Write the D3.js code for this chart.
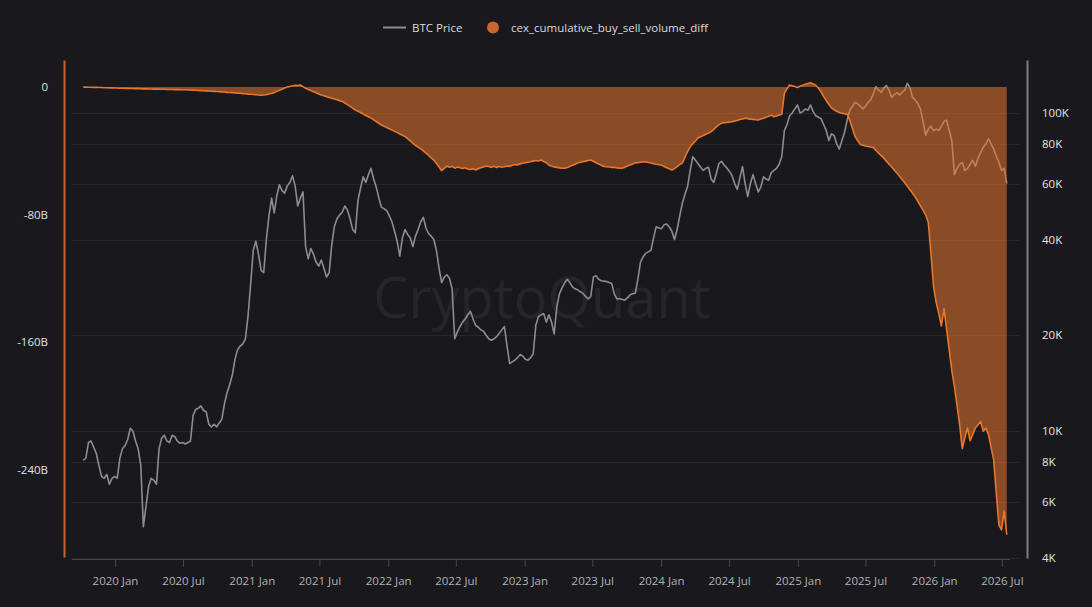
<!DOCTYPE html>
<html>
<head>
<meta charset="UTF-8">
<title>CEX cumulative buy/sell volume diff vs BTC price</title>
<script src="https://d3js.org/d3.v7.min.js"></script>
<style>
  html, body { margin: 0; padding: 0; background: #18181d; }
  svg { display: block; }
  text { font-family: "Open Sans", "Noto Sans", sans-serif; }
</style>
</head>
<body>
<script>
// weekly samples, first one on 2019-10-08
var startDate = new Date(2019, 9, 8);
var stepDays = 7;

// BTC price, thousand USD
var btcPrice = [
  8.1, 8.2, 9.2, 9.3, 8.9, 8.5, 7.8, 7.2, 7.1, 7.3,
  6.8, 7.1, 7.2, 7.1, 8.2, 8.8, 9.0, 9.4, 10.2, 10.0,
  9.3, 8.8, 7.8, 5.0, 5.8, 6.7, 7.1, 7.0, 6.8, 8.8,
  9.5, 9.7, 9.3, 9.2, 9.7, 9.6, 9.3, 9.15, 9.2, 9.1,
  9.2, 9.3, 11.2, 11.7, 11.8, 12.0, 11.6, 11.5, 10.5, 10.3,
  10.5, 10.3, 10.6, 10.9, 12.2, 13.2, 14.0, 15.0, 16.8, 18.0,
  18.5, 18.8, 19.5, 23.0, 29.0, 37.0, 39.5, 36.0, 32.0, 31.5,
  40.0, 47.5, 54.0, 48.5, 55.0, 59.5, 57.0, 56.0, 59.0, 60.5,
  63.5, 59.0, 51.0, 54.0, 56.5, 38.0, 34.8, 37.5, 36.0, 34.0,
  33.0, 34.5, 32.5, 30.5, 31.5, 38.5, 44.0, 46.5, 47.8, 48.8,
  51.0, 49.5, 46.5, 43.0, 42.0, 53.0, 58.0, 63.0, 60.5, 64.0,
  67.0, 62.0, 58.5, 54.0, 50.5, 50.0, 49.3, 47.5, 45.5, 42.5,
  39.5, 35.5, 40.5, 43.0, 41.5, 40.5, 38.0, 41.0, 43.0, 45.5,
  47.0, 43.5, 41.8, 41.0, 40.0, 37.0, 32.5, 29.3, 30.5, 31.0,
  30.2, 28.0, 19.5, 20.5, 21.3, 22.0, 22.5, 23.2, 23.8, 22.5,
  21.5, 21.2, 20.8, 20.6, 20.0, 19.5, 19.3, 19.5, 19.8, 20.3,
  20.8, 21.3, 18.5, 16.3, 16.5, 16.7, 17.0, 17.4, 17.2, 16.8,
  16.7, 17.0, 17.5, 21.5, 22.9, 23.2, 23.4, 22.0, 23.2, 22.0,
  20.2, 24.5, 27.0, 28.2, 29.2, 30.0, 29.3, 28.4, 28.0, 27.8,
  27.4, 27.1, 26.5, 26.0, 26.5, 30.5, 30.8, 30.0, 29.7, 29.6,
  29.5, 29.3, 29.1, 27.0, 26.0, 26.1, 25.9, 25.8, 26.2, 26.8,
  27.0, 27.1, 30.0, 34.0, 35.3, 36.2, 36.6, 37.0, 40.5, 43.9,
  43.5, 43.3, 44.5, 44.8, 43.8, 42.5, 40.0, 43.0, 47.5, 52.0,
  55.5, 58.7, 66.0, 72.9, 71.0, 69.3, 67.5, 66.0, 67.0, 67.5,
  62.0, 60.5, 64.5, 69.5, 70.5, 68.5, 67.2, 65.5, 63.5, 60.0,
  57.5, 62.5, 67.8, 60.0, 54.6, 60.0, 64.0, 60.0, 56.5, 58.5,
  63, 62, 61.5, 65, 66, 67, 69, 73, 88, 92,
  98, 100, 103, 106, 100, 101, 103, 102, 106, 101,
  98, 97, 96, 92, 88, 82, 86, 85, 80, 77,
  82, 87, 95, 102, 105, 108, 107, 105, 103, 105,
  108, 110, 115, 121, 118, 116, 120, 122, 118, 112,
  114, 116, 114, 116, 118, 124, 120, 112, 110, 107,
  103, 94, 85, 89, 91, 88, 89, 88, 91, 94,
  95, 88, 82, 64, 67, 69, 70, 66, 67, 69,
  71, 68, 72, 75, 78, 80, 83, 80, 77, 73,
  70, 66, 67, 60
];

// cex_cumulative_buy_sell_volume_diff, billions
var volumeDiff = [
  0, 0, -0.1, -0.1, -0.2, -0.2, -0.3, -0.3, -0.4, -0.4,
  -0.5, -0.5, -0.6, -0.6, -0.7, -0.7, -0.8, -0.8, -0.9, -0.9,
  -1.0, -1.0, -1.0, -1.1, -1.1, -1.2, -1.2, -1.3, -1.3, -1.3,
  -1.4, -1.4, -1.5, -1.5, -1.5, -1.6, -1.6, -1.7, -1.7, -1.7,
  -1.8, -1.8, -1.9, -2.0, -2.1, -2.2, -2.3, -2.4, -2.5, -2.6,
  -2.7, -2.8, -2.9, -3.0, -3.1, -3.3, -3.4, -3.5, -3.7, -3.8,
  -3.9, -4.1, -4.2, -4.4, -4.5, -4.7, -4.8, -5.0, -5.1, -5.0,
  -4.8, -4.4, -4.0, -3.4, -2.7, -2.0, -1.3, -0.6, 0.0, 0.4,
  0.8, 1.1, 1.0, 1.3, 0.3, -0.8, -1.5, -2.2, -3.0, -3.6,
  -4.3, -5.0, -5.5, -6.0, -6.5, -7.0, -7.5, -8.0, -8.5, -9.0,
  -10.0, -11.0, -12.1, -13.2, -14.4, -15.2, -16.0, -16.9, -17.8, -18.6,
  -19.5, -20.6, -21.6, -22.7, -23.8, -24.6, -25.4, -26.2, -27.0, -27.8,
  -28.6, -29.4, -30.2, -31.0, -32.4, -33.8, -35.2, -36.6, -37.7, -38.8,
  -40.0, -41.4, -42.9, -44.4, -45.8, -48.0, -50.2, -52.5, -51.0, -49.6,
  -50.3, -49.8, -50.9, -50.2, -50.6, -51.1, -50.7, -51.4, -51.8, -51.2,
  -52.0, -51.3, -50.6, -50.1, -49.6, -49.9, -50.4, -49.7, -50.5, -49.9,
  -50.3, -50.0, -49.6, -49.9, -49.1, -48.6, -48.9, -48.2, -47.8, -47.5,
  -47.2, -46.9, -46.5, -46.1, -46.4, -45.8, -46.7, -47.5, -49.0, -49.5,
  -50.1, -50.4, -50.7, -50.9, -51.0, -50.5, -49.8, -49.0, -48.4, -47.7,
  -47.2, -46.8, -46.5, -46.1, -45.8, -46.6, -47.5, -48.3, -49.1, -49.8,
  -50.0, -50.2, -50.5, -50.4, -50.8, -50.9, -51.0, -50.3, -49.6, -48.9,
  -48.3, -47.7, -47.4, -47.2, -47.0, -46.9, -47.3, -47.7, -48.1, -48.5,
  -48.8, -49.0, -49.8, -50.6, -51.3, -52.0, -51.2, -50.0, -48.7, -47.7,
  -44.0, -40.5, -37.5, -35.6, -33.8, -32.0, -31.2, -30.4, -29.6, -28.8,
  -28.0, -26.5, -25.0, -23.6, -22.6, -22.4, -22.2, -22.0, -21.8, -21.3,
  -20.9, -20.4, -20.0, -19.5, -19.8, -20.1, -20.3, -20.5, -20.7, -20.1,
  -19.5, -18.9, -18.3, -17.6, -18.6, -18.2, -17.6, -17.0, -4.0, -1.0,
  1.3, 0.8, 0.3, -0.2, 0.5, 1.2, 1.8, 2.3, 2.7, 2.0,
  1.2, -0.6, -3.0, -6.0, -8.4, -11.0, -13.0, -14.2, -15.2, -16.0,
  -16.4, -16.8, -17.0, -21.0, -26.0, -31.0, -33.5, -36.0, -36.5, -37.0,
  -37.3, -37.6, -38.0, -39.7, -41.5, -43.0, -44.6, -46.5, -48.4, -50.2,
  -52.0, -54.0, -56.0, -58.0, -60.0, -62.2, -64.4, -66.7, -69.0, -71.8,
  -74.6, -77.4, -80.2, -85, -104, -125, -135, -142, -150, -139,
  -152, -165, -178, -188, -200, -212, -227, -220, -214, -222,
  -218, -214, -212, -210, -216, -214, -218, -226, -234, -255,
  -275, -278, -266, -281
];

var xTickDates = ["2020-01", "2020-07", "2021-01", "2021-07", "2022-01", "2022-07", "2023-01",
                  "2023-07", "2024-01", "2024-07", "2025-01", "2025-07", "2026-01", "2026-07"];
var leftTicks = [0, -80, -160, -240];
var rightTicks = [4000, 6000, 8000, 10000, 20000, 40000, 60000, 80000, 100000];

var width = 1092, height = 607;
var plot = { left: 72, right: 1012, top: 60, bottom: 558 };

var rows = btcPrice.map(function (p, i) {
  return {
    date: d3.timeDay.offset(startDate, i * stepDays),
    price: p * 1000,
    diff: volumeDiff[i]
  };
});

var parseMonth = d3.timeParse("%Y-%m");

var x = d3.scaleTime()
    .domain([new Date(2019, 8, 8), new Date(2026, 6, 28)])
    .range([plot.left, plot.right]);

var yLeft = d3.scaleLinear()
    .domain([-295, 17])
    .range([557, 60]);

var yRight = d3.scaleLog()
    .domain([3987, 146800])
    .range([558, 60]);

var svg = d3.select("body").append("svg")
    .attr("width", width)
    .attr("height", height);

svg.append("rect")
    .attr("width", width)
    .attr("height", height)
    .attr("fill", "#18181d");

// watermark
svg.append("text")
    .attr("x", 542)
    .attr("y", 318)
    .attr("text-anchor", "middle")
    .style("font-size", "56px")
    .style("font-weight", 500)
    .style("fill", "#ffffff")
    .style("fill-opacity", 0.06)
    .text("CryptoQuant");

// horizontal grid from the price axis
svg.append("g").selectAll("line")
    .data(rightTicks)
    .enter()
    .append("line")
    .attr("x1", plot.left)
    .attr("x2", 1020)
    .attr("y1", function (d) { return Math.round(yRight(d)) + 0.5; })
    .attr("y2", function (d) { return Math.round(yRight(d)) + 0.5; })
    .attr("stroke", "#26262c")
    .attr("stroke-width", 1);

// x axis
var xAxis = svg.append("g")
    .attr("transform", "translate(0," + 559 + ")")
    .call(d3.axisBottom(x)
        .tickValues(xTickDates.map(parseMonth))
        .tickFormat(d3.timeFormat("%Y %b"))
        .tickSize(8)
        .tickSizeOuter(0)
        .tickPadding(10));
xAxis.select(".domain").attr("stroke", "#45454c").attr("d", "M" + plot.left + ",0.5H1010");
xAxis.selectAll(".tick line").attr("stroke", "#45454c");
xAxis.selectAll(".tick text")
    .style("font-size", "11.5px")
    .style("fill", "#b2b2b6");

// left axis (volume diff)
var leftAxis = svg.append("g")
    .attr("transform", "translate(64,0)")
    .call(d3.axisLeft(yLeft)
        .tickValues(leftTicks)
        .tickFormat(function (d) { return d === 0 ? "0" : d + "B"; })
        .tickSize(0)
        .tickSizeOuter(0)
        .tickPadding(16));
leftAxis.select(".domain").attr("stroke", "#c8632a").attr("stroke-width", 2);
leftAxis.selectAll(".tick text")
    .style("font-size", "11.5px")
    .style("fill", "#e2e2e2");

// right axis (price, log)
var rightAxis = svg.append("g")
    .attr("transform", "translate(1027,0)")
    .call(d3.axisRight(yRight)
        .tickValues(rightTicks)
        .tickFormat(function (d) { return (d / 1000) + "K"; })
        .tickSize(0)
        .tickSizeOuter(0)
        .tickPadding(15));
rightAxis.select(".domain").attr("stroke", "#7c7c82").attr("stroke-width", 2);
rightAxis.selectAll(".tick text")
    .style("font-size", "11.5px")
    .style("fill", "#e6e6e6");

// BTC price line (sits under the orange area)
var priceLine = d3.line()
    .x(function (d) { return x(d.date); })
    .y(function (d) { return yRight(d.price); });

svg.append("path")
    .datum(rows)
    .attr("d", priceLine)
    .attr("fill", "none")
    .attr("stroke", "#8c8c94")
    .attr("stroke-width", 1.6)
    .attr("stroke-linejoin", "round");

// volume diff area + line
var diffArea = d3.area()
    .x(function (d) { return x(d.date); })
    .y0(yLeft(0))
    .y1(function (d) { return yLeft(d.diff); });

var diffLine = d3.line()
    .x(function (d) { return x(d.date); })
    .y(function (d) { return yLeft(d.diff); });

svg.append("path")
    .datum(rows)
    .attr("d", diffArea)
    .attr("fill", "#e8782e")
    .attr("fill-opacity", 0.55);

svg.append("path")
    .datum(rows)
    .attr("d", diffLine)
    .attr("fill", "none")
    .attr("stroke", "#e8762c")
    .attr("stroke-width", 1.6)
    .attr("stroke-linejoin", "round");

// legend
var legend = svg.append("g");
legend.append("line")
    .attr("x1", 383).attr("x2", 406)
    .attr("y1", 27.5).attr("y2", 27.5)
    .attr("stroke", "#8c8c94")
    .attr("stroke-width", 2);
legend.append("text")
    .attr("x", 412).attr("y", 31.5)
    .style("font-size", "11.5px")
    .style("fill", "#dcdcdc")
    .text("BTC Price");
legend.append("circle")
    .attr("cx", 493).attr("cy", 27.5).attr("r", 6)
    .attr("fill", "#c9672c");
legend.append("text")
    .attr("x", 511).attr("y", 31.5)
    .style("font-size", "11.5px")
    .style("fill", "#dcdcdc")
    .text("cex_cumulative_buy_sell_volume_diff");
</script>
</body>
</html>
